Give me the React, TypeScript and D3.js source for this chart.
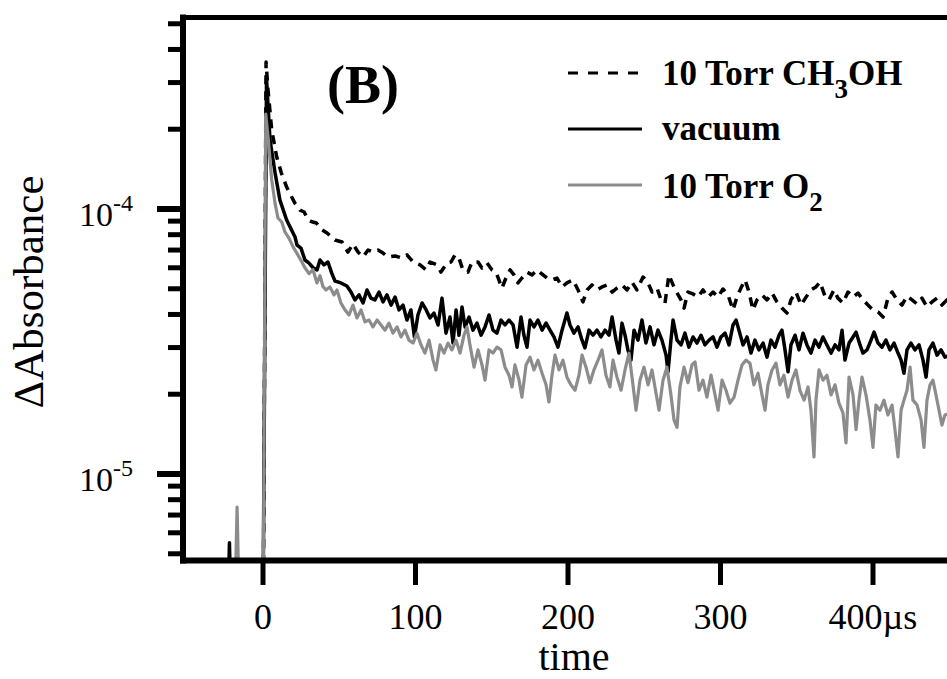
import React from 'react';
import * as d3 from 'd3';

// time in µs, ΔAbsorbance in units of 1e-5
const ch3ohData: [number, number][] = [[-52,0.3],[0.2,0.3],[2,35.9],[3.3,28.1],[5.7,19.9],[9,15.7],[12,13.7],[15.5,12.1],[18.5,11.2],[21,10.5],[24.3,9.9],[27,9.74],[29.5,9.1],[32,8.95],[35,8.86],[38,8.4],[42,8.12],[47.2,7.64],[51.8,7.51],[55.7,6.88],[59,7.38],[62.3,6.88],[65.6,6.59],[68.9,7.0],[72.1,6.88],[75.4,7.0],[78.7,6.82],[82,6.59],[86.6,6.65],[91.1,6.53],[94.4,6.71],[98.4,6.31],[103,6.15],[106.9,5.89],[109.5,6.31],[114.1,6.15],[116.7,5.78],[120.7,6.26],[123.3,6.31],[125.9,6.71],[128.5,6.53],[131.1,5.89],[134.4,5.78],[137,6.31],[141,6.31],[143.6,5.99],[146.9,6.26],[150.2,5.89],[152.8,5.78],[156.7,5.03],[159.3,5.49],[162,5.89],[164.6,5.64],[167.2,5.26],[169.8,5.49],[173.1,5.78],[176.4,5.64],[179.7,5.89],[183,5.68],[186.2,5.49],[189.5,5.4],[192.8,5.49],[196.1,5.08],[199.3,5.26],[203.3,5.4],[206.6,4.95],[209.8,4.46],[212.5,4.95],[215.7,5.17],[219,4.95],[222.3,5.08],[225.6,5.17],[228.9,4.86],[232.1,5.03],[235.4,5.17],[238.7,4.95],[242,5.3],[245.2,4.95],[249.2,5.54],[252.5,5.26],[255.1,4.86],[258.4,5.03],[261,4.54],[263.6,4.42],[266.2,5.64],[268.9,5.17],[271.5,4.82],[274.1,4.54],[276.1,4.23],[278.7,4.86],[282,4.78],[285.2,4.65],[288.5,4.95],[291.8,4.65],[295.1,4.86],[298.4,4.65],[301.6,4.99],[304.9,4.74],[308.2,4.16],[310.8,4.65],[313.4,5.03],[316.1,5.4],[318.7,4.86],[321.3,4.16],[323.9,4.54],[327.2,4.74],[330.5,4.54],[333.8,4.82],[337,4.46],[340.3,4.23],[343.6,4.05],[346.2,4.54],[349.5,4.86],[352.8,4.34],[356.1,4.65],[359.3,4.95],[362.6,5.08],[365.2,5.3],[368.5,4.69],[371.1,4.54],[374.4,4.95],[377,4.61],[380.3,4.42],[383.6,4.86],[386.9,4.65],[390.2,4.82],[393.4,4.54],[396.7,4.34],[400,4.16],[403.3,4.09],[406.6,3.91],[409.8,4.61],[412.5,4.86],[415.7,4.54],[419,4.34],[422.3,4.69],[425.6,4.54],[428.9,4.38],[432.1,4.61],[435.4,4.27],[438.7,4.46],[442,4.61],[445.2,4.34],[448.5,4.54],[455,4.46]];

const vacuumData: [number, number][] = [[-52,0.3],[-23,0.3],[-22,0.55],[-21,0.3],[0,0.3],[2.3,31],[4.6,18.2],[7.9,13.7],[11.1,10.8],[15.5,9.09],[21,7.84],[22.3,7.31],[24.9,7.12],[27.5,6.42],[30,6.26],[33,5.99],[35.4,5.89],[37.4,6.42],[40,6.15],[42.6,6.31],[45,5.74],[47.2,5.35],[51.1,5.26],[55,5.12],[57.7,4.86],[60.3,4.54],[63,4.74],[65.6,4.42],[68.2,4.95],[70.8,4.61],[73.4,4.54],[76.1,4.86],[78.7,4.46],[81.3,4.74],[84,4.34],[86.6,4.65],[89.2,4.16],[91.8,4.34],[94.4,3.81],[97,4.16],[99.3,3.29],[101.6,3.98],[104.3,4.42],[107,4.16],[109.5,3.88],[112.1,4.05],[114.8,3.65],[117.4,4.61],[120,3.4],[122.6,3.91],[124.6,3.12],[126.6,4.16],[128.5,3.34],[130.5,4.27],[132.5,3.59],[135.1,3.91],[137.7,3.49],[140.3,3.71],[143,3.34],[145.6,3.59],[148.2,3.98],[150.8,3.49],[153.4,3.4],[156.1,3.81],[158.7,3.65],[161.3,3.81],[164,3.65],[166.6,3.01],[169.2,3.91],[171.1,3.34],[173.1,3.01],[175.1,3.81],[177.7,3.59],[180.3,3.81],[183,3.49],[185.6,3.71],[188.2,3.49],[190.8,3.29],[193.4,3.01],[196.1,3.49],[198,3.81],[199.3,4.05],[201.3,3.65],[203.9,3.4],[206.6,3.59],[209.2,3.2],[211.1,2.99],[213.8,3.49],[216.4,3.34],[219,3.49],[221.6,3.29],[224.3,3.49],[226.9,3.34],[228.9,3.91],[231.5,3.2],[233.4,2.86],[235.4,3.71],[237.4,3.34],[239.3,2.94],[241.3,2.69],[243.3,3.49],[245.9,3.2],[248.5,3.81],[251.1,3.12],[253.8,3.59],[256.4,3.07],[259,3.49],[261.6,3.2],[264.3,2.81],[265.6,2.43],[267.5,3.2],[268.9,3.81],[271.5,3.2],[274.1,3.07],[276.7,3.4],[279.3,3.01],[282,3.29],[284.6,3.12],[287.2,3.34],[289.8,3.07],[292.5,3.2],[295.1,3.29],[297.7,3.01],[300.3,3.29],[303,3.4],[305.6,3.07],[308.2,3.65],[310.2,3.81],[312.1,3.49],[314.8,3.07],[317.4,3.29],[320,2.86],[322.6,3.2],[325.2,2.94],[327.9,3.12],[330.5,2.76],[333.1,3.2],[335.7,3.01],[338.4,3.34],[340.3,3.49],[342.3,2.94],[344.3,2.43],[346.2,3.07],[348.9,3.34],[351.5,2.94],[354.1,3.4],[356.7,3.07],[359.3,2.86],[362,3.2],[364.6,3.01],[367.2,3.29],[369.8,3.07],[372.5,2.86],[375.1,3.07],[377.7,2.94],[379.7,3.49],[381.6,2.69],[384.3,3.12],[386.9,3.29],[388.9,3.43],[391.5,3.07],[393.4,2.86],[396.1,2.94],[398.7,3.2],[400.7,3.43],[403.3,3.12],[405.9,3.01],[408.5,3.2],[411.1,2.94],[413.8,3.12],[416.4,2.86],[418.4,2.69],[420.3,2.4],[422.3,2.94],[424.9,3.12],[427.5,2.94],[430.2,3.07],[432.8,2.69],[434.8,2.32],[436.7,2.94],[439.3,3.12],[442,2.81],[444.6,2.94],[447.2,2.76],[455,2.86]];

const o2Data: [number, number][] = [[-52,0.3],[-18.5,0.3],[-17,0.75],[-15.5,0.3],[0.1,0.3],[1.8,22.8],[3.5,18.2],[5.7,12.9],[7.9,10.5],[9.8,9.25],[12.3,8.93],[14.4,8.19],[17,7.77],[19.7,7.2],[22.3,6.8],[24.9,6.4],[27.5,6.0],[30.2,5.7],[32.8,5.9],[35.4,5.26],[37.4,5.6],[39.3,5.1],[41.3,4.95],[43.9,5.08],[46.6,4.74],[48.5,4.95],[51.1,4.42],[53.8,4.16],[56.4,3.98],[59,4.34],[61.6,3.88],[64.3,4.16],[66.9,3.75],[69.5,3.81],[72.1,3.59],[74.8,3.81],[77.4,3.65],[80,3.49],[82.6,3.71],[85.2,3.4],[87.9,3.59],[90.5,3.29],[93.1,3.49],[95.7,3.2],[98.4,3.12],[101,3.4],[103.6,3.07],[106.2,2.86],[108.9,3.2],[111.5,2.69],[113.4,2.47],[116.1,3.07],[118.7,2.86],[121.3,3.12],[123.9,2.94],[126.6,3.2],[129.2,2.86],[131.8,3.34],[133.8,3.59],[135.7,3.07],[138.4,2.53],[141,2.94],[143.6,2.58],[145.6,2.26],[148.2,2.94],[150.8,2.86],[153.4,3.01],[156.1,2.94],[158.7,2.53],[161.3,2.36],[163.3,2.13],[165.2,2.58],[167.9,2.26],[169.8,1.95],[172.5,2.58],[175.1,2.76],[177.7,2.47],[180.3,2.69],[183,2.4],[185.6,2.17],[187.5,1.87],[189.5,2.36],[191.5,2.81],[194.1,2.47],[196.7,2.69],[199.3,2.32],[201.9,2.17],[204.6,2.07],[207.2,2.36],[209.2,2.81],[211.8,2.53],[214.4,2.21],[217,2.47],[219.7,2.69],[222.3,2.94],[224.9,2.36],[227.5,2.13],[229.5,2.69],[232.1,2.32],[234.8,2.07],[237.4,2.47],[240,2.86],[242.6,2.17],[244.6,1.74],[247.2,2.26],[249.8,2.53],[252.5,2.17],[255.1,2.47],[257.7,2.02],[259.7,1.74],[262.3,2.26],[264.9,2.53],[267.5,1.99],[269.5,1.6],[271.5,1.5],[273.4,2.13],[276.1,2.53],[278.7,2.21],[281.3,2.58],[283.3,2.65],[285.9,2.07],[288.5,2.26],[291.1,1.95],[293.8,2.36],[296.4,1.99],[298.4,1.74],[301,2.26],[303.6,2.07],[306.2,1.85],[308.9,1.95],[311.5,2.26],[314.1,2.58],[316.7,2.69],[319.3,2.62],[321.9,2.17],[324.6,2.4],[327.2,1.99],[329.2,1.74],[331.1,2.17],[333.8,2.47],[336.4,2.62],[339,2.17],[341.6,2.36],[344.3,1.95],[346.9,2.26],[349.5,2.47],[352.1,2.07],[354.8,1.9],[357.4,2.13],[359.3,1.74],[361.3,1.16],[362.6,1.9],[364.6,2.47],[367.2,2.26],[369.8,2.36],[372.5,1.99],[375.1,2.17],[377.7,1.85],[380.3,1.7],[382.3,1.31],[384.3,2.32],[386.9,1.99],[388.9,1.47],[390.8,1.9],[392.8,2.32],[395.4,1.99],[398,1.6],[400,1.26],[401.9,1.82],[404.6,1.74],[407.2,1.9],[409.8,1.67],[412.5,1.82],[414.4,1.47],[416.4,1.16],[418.4,1.74],[420.3,1.9],[422.3,2.07],[424.3,2.53],[426.2,1.9],[428.9,1.82],[431.5,1.6],[433.4,1.26],[435.4,1.9],[437.4,2.17],[439.3,2.26],[441.3,1.99],[443.3,1.74],[445.2,1.53],[447.2,1.67],[455,1.74]];

const xTicks = [0, 100, 200, 300, 400];
const xTickLabels = ['0', '100', '200', '300', '400µs'];
const yMajorTicks = [1e-5, 1e-4];
const yMajorExp = ['-5', '-4'];
const yMinorTicks = [5e-6, 6e-6, 7e-6, 8e-6, 9e-6, 2e-5, 3e-5, 4e-5, 5e-5, 6e-5, 7e-5, 8e-5, 9e-5, 2e-4, 3e-4, 4e-4, 5e-4];

const GRAY = '#8c8c8c';
const FONT = "'Liberation Serif', 'Times New Roman', serif";

export default function App() {
  const W = 947, H = 679;
  const left = 183, top = 17, bottom = 560;
  const x = d3.scaleLinear().domain([0, 400]).range([263, 873]);
  const y = d3.scaleLog().domain([1e-5, 1e-4]).range([474, 209]);
  const line = d3.line<[number, number]>()
    .x(d => x(d[0]))
    .y(d => y(d[1] * 1e-5));

  return (
    <svg width={W} height={H} style={{ position: 'absolute', left: 0, top: 0, background: '#fff' }} fontFamily={FONT}>
      <defs>
        <clipPath id="plot">
          <rect x={left} y={top} width={W - left + 20} height={bottom - top} />
        </clipPath>
      </defs>
      <rect width={W} height={H} fill="#fff" />
      <g clipPath="url(#plot)" fill="none" strokeLinejoin="round">
        <path d={line(vacuumData) || ''} stroke="#000" strokeWidth={3.5} />
        <path d={line(ch3ohData) || ''} stroke="#000" strokeWidth={3.5} strokeDasharray="9,7" />
        <path d={line(o2Data) || ''} stroke={GRAY} strokeWidth={3.2} />
      </g>
      {/* axes frame */}
      <line x1={left} x2={left} y1={14.5} y2={563.5} stroke="#000" strokeWidth={6} />
      <line x1={left - 3} x2={W} y1={17.5} y2={17.5} stroke="#000" strokeWidth={5} />
      <line x1={left - 3} x2={W} y1={560.5} y2={560.5} stroke="#000" strokeWidth={6} />
      {/* x ticks */}
      {xTicks.map((t, i) => (
        <g key={t}>
          <line x1={x(t)} x2={x(t)} y1={560} y2={585} stroke="#000" strokeWidth={5} />
          <text x={x(t)} y={629} fontSize={36} textAnchor="middle">{xTickLabels[i]}</text>
        </g>
      ))}
      {/* y ticks */}
      {yMinorTicks.map(v => (
        <line key={v} x1={168} x2={left} y1={y(v)} y2={y(v)} stroke="#000" strokeWidth={5} />
      ))}
      {yMajorTicks.map((v, i) => (
        <g key={v}>
          <line x1={157} x2={left} y1={y(v)} y2={y(v)} stroke="#000" strokeWidth={6} />
          <text x={79} y={y(v) + 17} fontSize={34}>10<tspan fontSize={24} dy={-15}>{yMajorExp[i]}</tspan></text>
        </g>
      ))}
      {/* axis titles */}
      <text transform="translate(43,292) rotate(-90)" fontSize={43} textAnchor="middle">ΔAbsorbance</text>
      <text x={574} y={670} fontSize={40} textAnchor="middle">time</text>
      {/* panel label */}
      <text x={327} y={103} fontSize={54} fontWeight="bold">(B)</text>
      {/* legend */}
      <line x1={568} x2={642} y1={73} y2={73} stroke="#000" strokeWidth={3} strokeDasharray="10,10" />
      <line x1={568} x2={642} y1={129} y2={129} stroke="#000" strokeWidth={3} />
      <line x1={568} x2={642} y1={185} y2={185} stroke={GRAY} strokeWidth={3} />
      <text x={662} y={85} fontSize={35} fontWeight="bold">10 Torr CH<tspan fontSize={27} dy={13}>3</tspan><tspan dy={-13}>OH</tspan></text>
      <text x={662} y={140} fontSize={35} fontWeight="bold">vacuum</text>
      <text x={662} y={198} fontSize={35} fontWeight="bold">10 Torr O<tspan fontSize={27} dy={13}>2</tspan></text>
    </svg>
  );
}
